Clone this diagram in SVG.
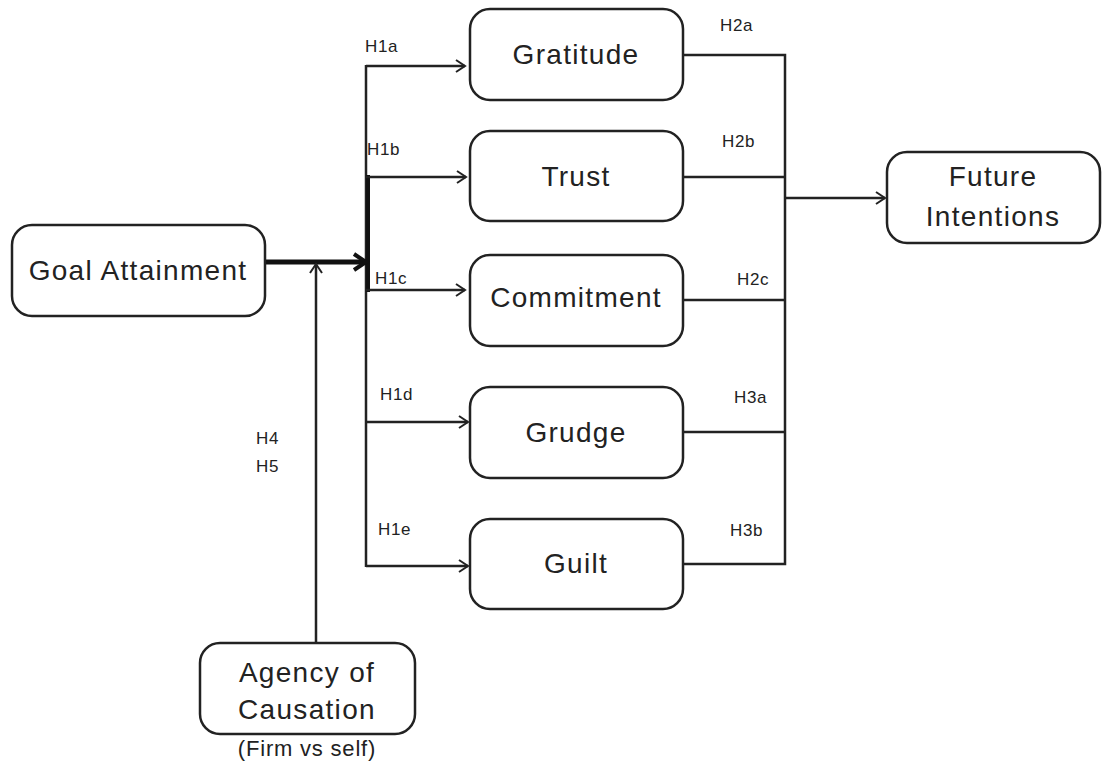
<svg xmlns="http://www.w3.org/2000/svg" width="1105" height="765" viewBox="0 0 1105 765">
<defs>
<marker id="ah" markerWidth="14" markerHeight="14" refX="12" refY="7" orient="auto" markerUnits="userSpaceOnUse">
<path d="M3,1 L12,7 L3,13" fill="none" stroke="#222" stroke-width="2"/>
</marker>
<marker id="ahb" markerWidth="20" markerHeight="20" refX="16" refY="10" orient="auto" markerUnits="userSpaceOnUse">
<path d="M4,2 L16,10 L4,18" fill="none" stroke="#111" stroke-width="4"/>
</marker>
<style>
.box{fill:#fff;stroke:#222;stroke-width:2.5}
.t{font-family:"Liberation Sans",Arial,sans-serif;font-size:28px;letter-spacing:1.3px;fill:#222;text-anchor:middle}
.s{font-family:"Liberation Sans",Arial,sans-serif;font-size:17px;letter-spacing:0.6px;fill:#222}
.ln{fill:none;stroke:#222;stroke-width:2.5}
</style>
</defs>
<rect width="1105" height="765" fill="#fff"/>
<g id="connectors">
<line class="ln" x1="366" y1="65" x2="366" y2="567"/>
<line x1="368" y1="175" x2="368" y2="292" stroke="#111" stroke-width="4"/>
<line class="ln" x1="366" y1="66" x2="465" y2="66" marker-end="url(#ah)"/>
<line class="ln" x1="366" y1="177" x2="466" y2="177" marker-end="url(#ah)"/>
<line class="ln" x1="366" y1="290" x2="465" y2="290" marker-end="url(#ah)"/>
<line class="ln" x1="366" y1="422" x2="468" y2="422" marker-end="url(#ah)"/>
<line class="ln" x1="366" y1="566" x2="468" y2="566" marker-end="url(#ah)"/>
<line x1="265" y1="262" x2="366" y2="262" stroke="#111" stroke-width="5" marker-end="url(#ahb)"/>
<line class="ln" x1="316" y1="643" x2="316" y2="264" marker-end="url(#ah)"/>
<polyline class="ln" points="683,55 785,55 785,564 683,564"/>
<line class="ln" x1="683" y1="177" x2="785" y2="177"/>
<line class="ln" x1="683" y1="300" x2="785" y2="300"/>
<line class="ln" x1="683" y1="432" x2="785" y2="432"/>
<line class="ln" x1="785" y1="198" x2="885" y2="198" marker-end="url(#ah)"/>
<text class="s" x="365" y="52">H1a</text>
<text class="s" x="367" y="155">H1b</text>
<text class="s" x="375" y="284">H1c</text>
<text class="s" x="380" y="400">H1d</text>
<text class="s" x="378" y="535">H1e</text>
<text class="s" x="720" y="31">H2a</text>
<text class="s" x="722" y="147">H2b</text>
<text class="s" x="737" y="285">H2c</text>
<text class="s" x="734" y="403">H3a</text>
<text class="s" x="730" y="536">H3b</text>
<text class="s" x="256" y="444">H4</text>
<text class="s" x="256" y="472">H5</text>
</g>
<g id="goal"><rect class="box" x="12" y="225" width="253" height="91" rx="20"/><text class="t" x="138" y="280">Goal Attainment</text></g>
<g id="gratitude"><rect class="box" x="470" y="9" width="213" height="91" rx="20"/><text class="t" x="576" y="64">Gratitude</text></g>
<g id="trust"><rect class="box" x="470" y="131" width="213" height="90" rx="20"/><text class="t" x="576" y="186">Trust</text></g>
<g id="commitment"><rect class="box" x="470" y="255" width="213" height="91" rx="20"/><text class="t" x="576" y="307">Commitment</text></g>
<g id="grudge"><rect class="box" x="470" y="387" width="213" height="91" rx="20"/><text class="t" x="576" y="442">Grudge</text></g>
<g id="guilt"><rect class="box" x="470" y="519" width="213" height="90" rx="20"/><text class="t" x="576" y="573">Guilt</text></g>
<g id="future"><rect class="box" x="887" y="152" width="213" height="91" rx="20"/><text class="t" x="993" y="186">Future</text><text class="t" x="993" y="226">Intentions</text></g>
<g id="agency"><rect class="box" x="200" y="643" width="215" height="91" rx="20"/><text class="t" x="307" y="682">Agency of</text><text class="t" x="307" y="719">Causation</text><text class="t" x="307" y="756" style="font-size:22px;letter-spacing:0.8px">(Firm vs self)</text></g>
</svg>
